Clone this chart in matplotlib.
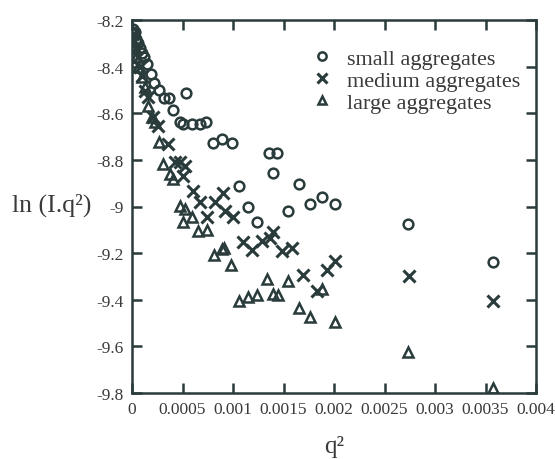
import matplotlib
matplotlib.use("Agg")
import matplotlib.pyplot as plt
from matplotlib.ticker import MultipleLocator, FuncFormatter

# ===== Data =====
small_q2 = [0.000005, 0.000015, 0.00003, 0.00004, 0.000055, 0.00008, 0.0001,
            0.00012, 0.000151, 0.000185, 0.000221, 0.00027, 0.00032, 0.000369,
            0.000409, 0.000475, 0.000508, 0.000535, 0.000591, 0.000673, 0.000733,
            0.000805, 0.000894, 0.000987, 0.001062, 0.001151, 0.00124, 0.001356,
            0.001393, 0.001439, 0.001548, 0.001653, 0.001762, 0.001878, 0.00201,
            0.002736, 0.003571]
small_ln = [-8.24, -8.26, -8.25, -8.28, -8.30, -8.32, -8.34,
            -8.36, -8.39, -8.43, -8.47, -8.50, -8.536, -8.536,
            -8.585, -8.639, -8.646, -8.513, -8.646, -8.646, -8.639,
            -8.729, -8.711, -8.729, -8.911, -9.004, -9.066, -8.772,
            -8.858, -8.772, -9.018, -8.904, -8.99, -8.961, -8.99,
            -9.073, -9.237]

medium_q2 = [0.00001, 0.00002, 0.00004, 0.00006, 0.00008, 0.0001, 0.000129,
             0.00016, 0.000211, 0.00026, 0.000359, 0.000426, 0.000475, 0.000525,
             0.000508, 0.000607, 0.000673, 0.000822, 0.000898, 0.000746, 0.000921,
             0.001003, 0.001096, 0.001185, 0.001284, 0.001366, 0.001399, 0.001482,
             0.001581, 0.00169, 0.001829, 0.001928, 0.00201, 0.002746, 0.003571]
medium_ln = [-8.26, -8.29, -8.32, -8.36, -8.40, -8.44, -8.503,
             -8.53, -8.618, -8.654, -8.732, -8.811, -8.811, -8.825,
             -8.868, -8.933, -8.982, -8.982, -8.942, -9.047, -9.018,
             -9.047, -9.154, -9.187, -9.147, -9.133, -9.111, -9.19,
             -9.18, -9.294, -9.362, -9.273, -9.233, -9.297, -9.405]

large_q2 = [0.000005, 0.00002, 0.00004, 0.00006, 0.000096, 0.000129, 0.000161,
            0.000195, 0.000228, 0.00027, 0.000304, 0.000376, 0.000409, 0.000475,
            0.000525, 0.000502, 0.000591, 0.000657, 0.000739, 0.000815, 0.000888,
            0.000911, 0.000977, 0.001059, 0.001152, 0.00124, 0.001334, 0.001393,
            0.001449, 0.001548, 0.001653, 0.001762, 0.001878, 0.00201, 0.002736,
            0.003571]
large_ln = [-8.29, -8.32, -8.36, -8.40, -8.446, -8.489, -8.568,
            -8.618, -8.639, -8.725, -8.818, -8.861, -8.882, -8.997,
            -9.011, -9.068, -9.043, -9.107, -9.101, -9.209, -9.183,
            -9.176, -9.252, -9.407, -9.39, -9.379, -9.309, -9.376,
            -9.38, -9.319, -9.437, -9.472, -9.352, -9.495, -9.626,
            -9.777]

labels = ["small aggregates", "medium aggregates", "large aggregates"]

# ===== Plot =====
ink = "#2a3b3b"
txt = "#3a3a3a"
plt.rcParams["font.family"] = ["Liberation Serif", "DejaVu Serif"]

fig = plt.figure(figsize=(5.55, 4.6), dpi=100)
ax = fig.add_axes([132 / 555, 66 / 460, 404 / 555, 373 / 460])

ax.plot(small_q2, small_ln, linestyle="none", marker="o", markersize=7,
        markerfacecolor="none", markeredgecolor=ink, markeredgewidth=1.8,
        label=labels[0])
ax.plot(medium_q2, medium_ln, linestyle="none", marker="x", markersize=8,
        color=ink, markeredgewidth=2.2, label=labels[1])
ax.plot(large_q2, large_ln, linestyle="none", marker="^", markersize=6.5,
        markerfacecolor="none", markeredgecolor=ink, markeredgewidth=1.8,
        label=labels[2])

ax.set_xlim(0, 0.004)
ax.set_ylim(-9.8, -8.2)
ax.xaxis.set_major_locator(MultipleLocator(0.0005))
ax.yaxis.set_major_locator(MultipleLocator(0.2))
ax.xaxis.set_major_formatter(FuncFormatter(lambda v, p: "%g" % round(v, 6)))
ax.yaxis.set_major_formatter(FuncFormatter(lambda v, p: "%g" % round(v, 3)))

for s in ax.spines.values():
    s.set_linewidth(1.8)
    s.set_color(ink)
ax.tick_params(direction="in", length=7, width=1.8, color=ink,
               top=True, right=True, labelsize=12.5, labelcolor=txt, pad=6)

ax.set_xlabel("q²", fontsize=18, color=txt)
ax.xaxis.set_label_coords(0.5, -0.142)
ax.xaxis.label.set_va("center")
ax.set_ylabel("ln (I.q²)", fontsize=18.5, color=txt, rotation=0,
              ha="center", va="center")
ax.yaxis.set_label_coords(-0.2, 0.507)

# legend markers a touch smaller than the data markers
leg = ax.legend(loc="upper left", bbox_to_anchor=(0.4426, 0.923), frameon=False,
                fontsize=16, handlelength=1.0, handletextpad=0.63,
                labelspacing=0.05, borderaxespad=0, borderpad=0, markerscale=0.85)
for t in leg.get_texts():
    t.set_color(txt)

fig.savefig("out.png", dpi=100)
